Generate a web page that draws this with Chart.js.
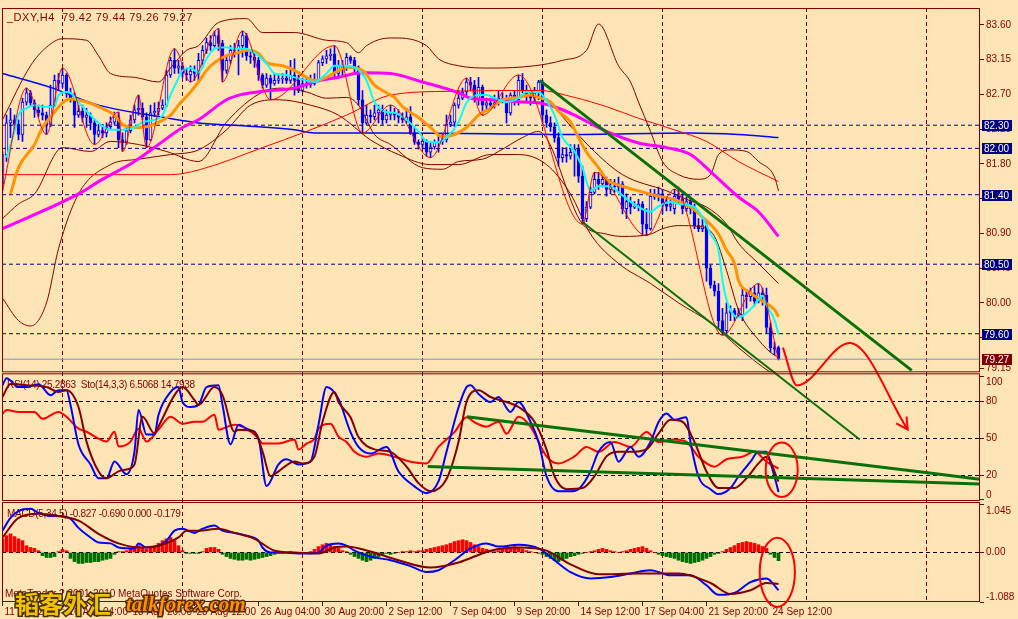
<!DOCTYPE html>
<html><head><meta charset="utf-8">
<script src="https://cdn.jsdelivr.net/npm/chart.js@4.4.1/dist/chart.umd.min.js"></script>
<style>html,body{margin:0;padding:0;background:#FDE4B4;}canvas{display:block;}</style>
</head><body>
<canvas id="c" width="1018" height="619"></canvas>
<script>
// ---------- axis / labels ----------
const dateLabels = ['11 Aug 2010','16 Aug 04:00','18 Aug 20:00','23 Aug 12:00','26 Aug 04:00','30 Aug 20:00','2 Sep 12:00','7 Sep 04:00','9 Sep 20:00','14 Sep 12:00','17 Sep 04:00','21 Sep 20:00','24 Sep 12:00'];
const dateTickBars = [0,16,32,48,64,80,96,112,128,144,160,176,192];
const weekGridBars = [15,45,75,105,135,165,201,231];
const priceTicks = [83.60,83.15,82.70,82.25,81.80,81.35,80.90,80.45,80.00,79.55,79.15];
const stochTicks = [100,80,50,20,0];
const stochGrid = [80,50,20];
const macdTicks = [1.045,0,-1.088];
const priceLevels = [82.30,82.00,81.40,80.50,79.60];
const lastPrice = 79.27;

// ---------- OHLC (H4 bars, index 0 = 11 Aug 12:00) ----------
const open = [81.54,81.92,82.33,82.37,82.31,82.18,82.60,82.72,82.59,82.50,82.46,82.43,82.31,82.56,82.88,82.84,82.95,82.72,82.65,82.43,
82.48,82.40,82.43,82.33,82.18,82.23,82.20,82.28,82.34,82.41,82.11,82.08,82.23,82.37,82.50,82.52,82.41,82.11,82.46,82.48,
82.52,82.56,82.95,83.14,83.04,83.07,82.97,82.95,83.00,82.97,83.14,83.27,83.37,83.33,83.46,83.36,83.01,83.14,83.27,83.29,
83.33,83.46,83.20,83.18,83.14,82.95,82.82,82.91,82.84,82.88,82.90,82.91,82.88,82.95,82.88,82.75,82.84,82.82,82.84,82.88,
83.11,83.16,83.20,83.22,82.97,83.07,83.05,83.18,83.14,83.05,82.63,82.33,82.43,82.41,82.46,82.50,82.37,82.43,82.46,82.43,
82.40,82.37,82.41,82.20,82.08,82.05,82.09,81.95,82.02,82.08,82.09,82.11,82.31,82.34,82.56,82.65,82.73,82.86,82.82,82.63,
82.79,82.56,82.59,82.56,82.59,82.65,82.63,82.46,82.69,82.63,82.88,82.75,82.69,82.65,82.72,82.86,82.43,82.33,82.28,82.14,
81.88,81.92,81.90,81.95,81.99,81.64,81.09,81.24,81.43,81.60,81.54,81.60,81.47,81.51,81.50,81.54,81.22,81.31,81.24,81.25,
81.28,81.02,80.96,81.38,81.37,81.41,81.28,81.25,81.22,81.38,81.34,81.22,81.31,81.22,81.00,80.96,81.00,80.45,80.23,80.15,
79.77,79.64,79.87,79.90,79.84,79.84,80.10,80.08,80.13,80.02,80.13,80.10,79.68,79.42,79.42];
const high = [81.96,82.43,82.52,82.43,82.37,82.65,82.78,82.75,82.63,82.56,82.56,82.47,82.82,82.95,82.97,83.04,82.97,82.78,82.72,82.56,
82.56,82.52,82.46,82.37,82.31,82.31,82.33,82.41,82.47,82.47,82.20,82.28,82.43,82.56,82.69,82.59,82.46,82.56,82.59,82.60,
82.63,83.01,83.18,83.29,83.14,83.11,83.04,83.07,83.07,83.23,83.33,83.43,83.46,83.52,83.55,83.40,83.20,83.33,83.36,83.40,
83.52,83.49,83.27,83.23,83.18,82.97,82.97,82.95,82.97,82.95,82.97,83.01,83.14,83.16,82.95,82.91,82.91,82.95,82.97,83.14,
83.20,83.27,83.29,83.33,83.14,83.14,83.23,83.20,83.18,83.07,82.75,82.56,82.50,82.56,82.56,82.56,82.50,82.56,82.52,82.50,
82.46,82.52,82.54,82.28,82.11,82.14,82.11,82.08,82.11,82.18,82.18,82.43,82.43,82.59,82.75,82.78,82.91,82.92,82.88,82.92,
82.82,82.65,82.65,82.69,82.75,82.72,82.69,82.72,82.75,82.95,82.97,82.82,82.75,82.79,82.88,82.88,82.50,82.41,82.33,82.20,
82.01,82.01,82.05,82.05,82.05,81.77,81.31,81.50,81.69,81.69,81.66,81.63,81.60,81.60,81.63,81.57,81.41,81.37,81.31,81.34,
81.31,81.22,81.47,81.47,81.50,81.47,81.34,81.34,81.47,81.50,81.41,81.37,81.34,81.28,81.09,81.09,81.05,80.49,80.28,80.25,
79.93,80.00,79.96,79.93,79.93,80.19,80.15,80.19,80.22,80.25,80.19,80.19,79.74,79.49,79.44];
const low = [81.45,81.83,82.14,82.24,82.11,82.09,82.56,82.54,82.40,82.41,82.37,82.18,82.28,82.54,82.75,82.79,82.66,82.60,82.27,82.40,
82.34,82.27,82.24,82.05,82.15,82.14,82.15,82.25,82.31,82.01,81.96,82.05,82.20,82.33,82.43,82.37,82.01,82.10,82.41,82.43,
82.50,82.54,82.92,82.97,82.97,82.92,82.88,82.86,82.88,82.88,83.05,83.23,83.27,83.31,83.27,82.86,82.97,83.10,83.18,82.95,
83.18,83.14,83.10,83.05,82.88,82.78,82.79,82.63,82.82,82.84,82.84,82.84,82.84,82.69,82.72,82.73,82.78,82.79,82.82,82.86,
83.07,83.10,83.14,82.92,82.91,82.95,83.01,83.10,82.97,82.56,82.20,82.31,82.33,82.37,82.33,82.31,82.33,82.37,82.37,82.33,
82.33,82.33,82.18,82.05,81.99,81.99,81.90,81.88,81.99,81.95,82.05,82.08,82.28,82.28,82.52,82.63,82.69,82.75,82.60,82.56,
82.43,82.50,82.52,82.52,82.56,82.59,82.33,82.43,82.56,82.56,82.72,82.59,82.56,82.59,82.63,82.33,82.27,82.22,82.08,81.77,
81.82,81.82,81.86,81.64,81.56,81.02,81.05,81.22,81.41,81.47,81.50,81.38,81.41,81.43,81.43,81.15,81.09,81.15,81.22,81.19,
80.87,80.87,80.94,81.34,81.32,81.15,81.19,81.19,81.15,81.28,81.15,81.18,81.15,80.96,80.92,80.92,80.28,80.19,80.09,79.68,
79.58,79.59,79.77,79.77,79.81,79.77,79.93,80.02,79.96,80.00,79.97,79.61,79.36,79.33,79.26];
const close = [81.92,82.33,82.37,82.31,82.18,82.60,82.72,82.59,82.50,82.46,82.43,82.31,82.56,82.88,82.84,82.95,82.72,82.65,82.43,82.48,
82.40,82.43,82.33,82.18,82.23,82.20,82.28,82.34,82.41,82.11,82.08,82.23,82.37,82.50,82.52,82.41,82.11,82.46,82.48,82.52,
82.56,82.95,83.14,83.04,83.07,82.97,82.95,83.00,82.97,83.14,83.27,83.37,83.33,83.46,83.36,83.01,83.14,83.27,83.29,83.33,
83.46,83.20,83.18,83.14,82.95,82.82,82.91,82.84,82.88,82.90,82.91,82.88,82.95,82.88,82.75,82.84,82.82,82.84,82.88,83.11,
83.16,83.20,83.22,82.97,83.07,83.05,83.18,83.14,83.05,82.63,82.33,82.43,82.41,82.46,82.50,82.37,82.43,82.46,82.43,82.40,
82.37,82.41,82.20,82.08,82.05,82.09,81.95,82.02,82.08,82.09,82.11,82.31,82.34,82.56,82.65,82.73,82.86,82.82,82.63,82.79,
82.56,82.59,82.56,82.59,82.65,82.63,82.46,82.69,82.63,82.88,82.75,82.69,82.65,82.72,82.86,82.43,82.33,82.28,82.14,81.88,
81.92,81.90,81.95,81.99,81.64,81.09,81.24,81.43,81.60,81.54,81.60,81.47,81.51,81.50,81.54,81.22,81.31,81.24,81.25,81.28,
81.02,80.96,81.38,81.37,81.41,81.28,81.25,81.28,81.38,81.34,81.22,81.31,81.22,81.00,80.96,81.00,80.45,80.23,80.15,79.77,
79.61,79.87,79.90,79.84,79.86,80.10,80.08,80.13,80.02,80.13,80.10,79.68,79.42,79.40,79.27];

// ---------- price-panel indicators, [bar index, value] ----------
const maCyan = [[1,81.88],[3,82.22],[4,82.43],[6,82.52],[8,82.56],[10,82.54],[13,82.54],[14,82.69],[16,82.73],[17,82.72],[19,82.60],[22,82.43],[24,82.33],[27,82.24],[30,82.24],[33,82.27],[35,82.34],[38,82.37],[40,82.43],[42,82.69],[44,82.91],[45,83.01],[47,83.04],[49,82.98],[51,83.16],[53,83.29],[56,83.31],[58,83.29],[61,83.29],[63,83.24],[66,83.10],[68,82.97],[71,82.95],[73,82.92],[76,82.88],[78,82.86],[81,82.97],[83,83.07],[86,83.07],[88,83.05],[91,82.88],[93,82.60],[96,82.47],[98,82.46],[100,82.41],[104,82.22],[106,82.09],[109,82.08],[111,82.14],[114,82.34],[116,82.59],[119,82.69],[121,82.69],[124,82.63],[126,82.60],[129,82.65],[131,82.73],[134,82.73],[135,82.69],[138,82.43],[140,82.14],[143,81.96],[145,81.75],[147,81.45],[149,81.51],[152,81.51],[154,81.43],[157,81.31],[159,81.24],[162,81.18],[164,81.25],[167,81.31],[169,81.28],[173,81.24],[175,81.11],[177,80.89],[179,80.68],[180,80.29],[181,80.04],[183,79.83],[184,79.81],[186,79.87],[188,79.97],[190,80.09],[191,79.97],[193,79.78],[194,79.59]];
const maOrange = [[2,81.41],[4,81.75],[8,82.05],[10,82.27],[13,82.47],[15,82.59],[17,82.64],[21,82.60],[24,82.54],[28,82.43],[30,82.31],[33,82.27],[36,82.28],[39,82.34],[42,82.43],[44,82.56],[47,82.73],[49,82.86],[51,83.01],[53,83.11],[56,83.20],[59,83.24],[61,83.27],[64,83.23],[66,83.11],[70,83.07],[73,83.01],[76,82.92],[78,82.88],[81,82.92],[83,82.98],[86,83.05],[90,83.01],[93,82.82],[96,82.72],[98,82.66],[100,82.54],[104,82.40],[107,82.27],[110,82.15],[113,82.18],[116,82.27],[119,82.43],[122,82.52],[125,82.63],[129,82.66],[132,82.69],[134,82.66],[137,82.60],[139,82.48],[142,82.34],[144,82.14],[146,81.95],[149,81.75],[151,81.60],[155,81.51],[159,81.45],[164,81.38],[168,81.34],[172,81.24],[175,81.11],[179,80.89],[181,80.68],[183,80.51],[184,80.29],[187,80.13],[190,80.02],[193,79.91],[194,79.82]];
const maMagenta = [[0,80.96],[19,81.41],[24,81.57],[33,81.83],[39,82.05],[45,82.27],[49,82.37],[56,82.63],[60,82.70],[65,82.74],[73,82.78],[79,82.88],[84,82.92],[88,82.97],[91,82.98],[97,82.97],[105,82.86],[114,82.72],[117,82.65],[122,82.63],[130,82.60],[134,82.59],[139,82.52],[143,82.43],[151,82.22],[159,82.07],[166,82.01],[172,81.92],[177,81.70],[184,81.37],[189,81.18],[194,80.86]];
const maBlue = [[0,82.97],[12,82.79],[24,82.56],[37,82.43],[49,82.33],[61,82.29],[73,82.24],[78,82.20],[98,82.20],[122,82.19],[141,82.18],[172,82.20],[184,82.18],[194,82.14]];
const maRed = [[0,81.66],[24,81.66],[42,81.66],[49,81.72],[65,82.01],[76,82.22],[86,82.43],[97,82.69],[112,82.74],[134,82.75],[143,82.66],[151,82.54],[159,82.39],[168,82.24],[176,82.09],[184,81.83],[194,81.57]];
const zigzag = [[0,81.45],[6,82.78],[11,82.18],[15,83.04],[23,82.05],[29,82.47],[30,81.96],[34,82.69],[36,82.01],[43,83.29],[47,82.86],[54,83.55],[55,82.86],[60,83.52],[67,82.63],[83,83.33],[90,82.20],[97,82.56],[107,81.88],[116,82.91],[120,82.43],[129,82.95],[145,81.02],[148,81.69],[161,80.87],[168,81.47],[180,79.58],[189,80.25],[194,79.26]];
const bbOuterUp = [[0,82.37],[7,83.07],[11,83.31],[15,83.42],[21,83.40],[24,83.20],[27,82.97],[33,82.92],[39,82.86],[42,83.04],[46,83.27],[49,83.33],[54,83.63],[61,83.68],[65,83.50],[73,83.50],[81,83.40],[86,83.37],[89,83.24],[91,83.33],[95,83.42],[98,83.43],[106,83.33],[109,83.16],[114,83.07],[122,83.04],[133,83.07],[140,83.14],[146,83.27],[149,83.61],[154,83.07],[157,82.86],[159,82.60],[162,82.22],[165,81.83],[169,81.66],[174,81.60],[177,81.66],[179,81.92],[182,81.98],[186,81.96],[189,81.83],[193,81.63],[194,81.45]];
const bbOuterLow = [[0,80.06],[4,79.77],[7,79.70],[11,80.00],[14,80.70],[19,81.41],[27,81.79],[34,81.86],[42,81.92],[49,81.98],[56,82.24],[62,82.56],[69,82.63],[77,82.56],[84,82.43],[92,82.11],[99,81.92],[107,81.79],[114,81.79],[122,81.92],[129,81.92],[136,81.79],[142,81.41],[147,80.89],[154,80.51],[162,80.25],[169,80.00],[177,79.74],[184,79.42],[192,79.10],[194,79.05]];
const bbInnerUp = [[136,82.65],[147,82.01],[155,81.66],[166,81.45],[172,81.32],[176,81.24],[181,81.02],[184,80.77],[189,80.51],[194,80.25]];
const bbInnerLow = [[0,81.09],[4,81.28],[8,81.41],[15,82.01],[22,81.96],[27,82.09],[34,82.05],[41,81.96],[49,81.83],[56,82.34],[65,82.73],[70,82.78],[76,82.73],[81,82.65],[86,82.66],[89,82.56],[93,82.18],[97,82.05],[105,81.75],[110,81.73],[114,81.83],[120,81.86],[124,81.96],[130,82.14],[134,82.22],[145,81.02],[151,80.89],[155,80.86],[162,80.89],[165,80.96],[169,81.00],[174,80.99],[178,80.86],[181,80.42],[184,79.91],[189,79.52],[193,79.32],[194,79.30]];
const channelUpper = [[134.3,82.88],[227.3,79.126]];
const channelLower = [[144.9,81.05],[214.3,78.23]];
const arrowPath = [[195.1,79.42],[198.6,78.93],[211.8,79.48],[226.3,78.36]];

// ---------- RSI / Stochastic ----------
const rsi14 = [[0,69.8],[1,73],[4,71.4],[8,71.4],[10,65.8],[14,71.4],[16,67.4],[19,57.8],[21,55.3],[24,49.7],[26,47.3],[28,55.3],[29,43.3],[32,47.3],[34,57.8],[36,47.3],[39,57],[42,67.4],[45,61.8],[48,63.4],[50,63.4],[53,69],[54,57],[58,61],[61,57.8],[64,49.7],[65,45.7],[69,45.7],[73,49],[74,40.9],[76,45.7],[78,49.7],[79,57.8],[82,61.8],[84,51.3],[86,47],[88,39],[91,35],[94,37.6],[98,35],[102,31],[106,29.6],[109,43],[113,55],[116,67],[118,63],[121,59.4],[124,63.4],[126,53.7],[129,67.4],[132,59.4],[136,35.3],[139,29.6],[143,35.3],[146,43],[149,39],[153,47],[157,43],[161,55],[164,47],[168,49],[171,47],[174,35],[178,27],[181,33],[185,35],[188,39],[191,31],[194,25.3]];
const stochK = [[0,93],[1,98.7],[4,91.5],[6,91.5],[9,93.9],[12,85],[14,89],[16,89],[17,77],[19,45],[22,28.8],[24,17.6],[26,17.6],[28,31.2],[31,20.8],[33,39.3],[34,73],[36,53],[38,53],[39,69],[42,87.5],[44,91.5],[45,79.4],[47,75.4],[49,77],[51,91.5],[54,93],[55,77],[57,45],[59,61],[61,57.8],[64,49.7],[66,11.2],[69,28.8],[71,32.9],[74,28.8],[77,31.2],[79,61],[81,91.5],[84,81.8],[87,55],[89,43],[92,37.6],[96,43],[99,23],[103,11],[106,5.5],[109,15],[111,39],[114,75],[116,91.5],[117,93],[119,86],[122,79.4],[124,83.5],[127,71.4],[129,79.4],[132,63.4],[134,47.3],[136,19.2],[139,7],[142,7],[144,8.7],[147,23],[149,39],[152,47],[154,31],[157,43],[159,35],[162,47],[164,63],[166,70],[168,65],[171,67],[172,47],[174,19],[177,8.7],[179,4.7],[182,9.6],[184,19],[187,31],[189,39],[191,39],[192,30],[193,19],[194,6.5]];
const stochD = [[0,83.5],[2,94],[6,93],[11,91.5],[14,87.5],[16,89],[19,75.4],[21,47.3],[24,23.2],[26,17.6],[29,23.2],[31,24.7],[33,28.8],[35,67.4],[38,53.9],[39,59.5],[43,85],[45,91.5],[48,81],[49,77],[53,91.5],[55,85],[58,55.3],[59,57],[63,55.3],[65,39.3],[67,19.2],[69,23.2],[73,31.2],[75,29.6],[78,35.3],[80,63.4],[83,87.5],[84,79.4],[87,67],[89,51],[93,41],[97,39],[101,27],[104,13.6],[107,7],[111,17],[114,47],[116,79.4],[119,89],[122,83.5],[126,79.4],[129,75.4],[133,63.4],[136,41],[138,19.2],[141,8.7],[145,9.6],[148,19.2],[151,35.3],[154,39],[157,39],[161,41],[164,53.7],[167,65],[170,63.4],[173,47],[176,23],[179,9.6],[183,9.6],[186,17.6],[189,29.6],[191,35],[194,14.8]];
const stochTrendUpper = [[116.1,67.4],[244.3,16.8]];
const stochTrendLower = [[106.3,27.2],[244.3,13.0]];

// ---------- MACD(5,34,5) ----------
const macdMain = [[0,0.48],[2,0.76],[4,0.91],[7,0.96],[9,0.87],[12,0.80],[14,0.80],[17,0.74],[19,0.54],[22,0.33],[24,0.22],[27,0.20],[29,0.11],[33,0.09],[34,0.20],[36,0.11],[39,0.15],[41,0.26],[43,0.48],[45,0.52],[48,0.43],[50,0.52],[53,0.59],[55,0.48],[58,0.43],[61,0.37],[64,0.26],[65,0.11],[67,0],[70,0],[74,-0.02],[76,-0.02],[79,0],[81,0.15],[84,0.20],[86,0.15],[88,0.04],[92,-0.09],[97,-0.17],[102,-0.30],[106,-0.43],[109,-0.39],[113,-0.17],[117,0.09],[121,0.20],[124,0.13],[129,0.17],[134,0.09],[138,-0.17],[142,-0.43],[147,-0.57],[152,-0.54],[157,-0.46],[162,-0.39],[167,-0.5],[172,-0.5],[176,-0.72],[179,-0.93],[183,-0.89],[187,-0.65],[191,-0.57],[194,-0.83]];
const macdSignal = [[0,0.33],[4,0.76],[9,0.85],[14,0.80],[19,0.70],[24,0.41],[29,0.20],[34,0.11],[39,0.15],[44,0.33],[46,0.48],[49,0.48],[54,0.52],[58,0.43],[63,0.30],[68,0.04],[73,0],[79,-0.02],[83,0.11],[86,0.13],[92,0.02],[99,-0.17],[107,-0.33],[114,-0.22],[122,0.04],[129,0.11],[136,0.04],[142,-0.26],[149,-0.48],[159,-0.46],[169,-0.46],[177,-0.67],[182,-0.91],[187,-0.83],[191,-0.67],[194,-0.69]];
const macdHist = [0.30,0.37,0.41,0.35,0.30,0.26,0.15,0.11,0.09,0.04,-0.07,-0.11,-0.11,-0.09,0.02,0.07,0.04,-0.13,-0.20,-0.24,
-0.24,-0.22,-0.22,-0.20,-0.20,-0.17,-0.15,-0.13,-0.04,0.02,0.02,0.04,0.09,0.13,0.15,0.11,0.07,0.09,0.13,0.20,
0.26,0.30,0.33,0.26,0.15,0.04,-0.02,-0.02,-0.02,-0.02,0.02,0.09,0.11,0.11,0.07,-0.04,-0.09,-0.13,-0.15,-0.17,
-0.17,-0.15,-0.17,-0.15,-0.13,-0.11,-0.09,-0.07,-0.04,-0.02,-0.02,0,0.02,-0.02,-0.02,0,0,0.02,0.07,0.13,
0.17,0.20,0.17,0.13,0.09,0.04,0.02,-0.04,-0.09,-0.13,-0.17,-0.20,-0.17,-0.13,-0.09,-0.04,-0.02,-0.04,-0.02,0,
0.02,0.02,0.04,0.02,0.04,0.04,0.07,0.09,0.11,0.13,0.15,0.17,0.20,0.24,0.26,0.28,0.26,0.22,0.17,0.13,
0.09,0.07,0.04,0.02,0.04,0.07,0.09,0.11,0.13,0.11,0.07,0.04,0.02,0,-0.02,-0.04,-0.09,-0.13,-0.17,-0.20,
-0.17,-0.13,-0.09,-0.07,-0.04,-0.02,0,0.02,0.04,0.07,0.09,0.07,0.04,0.02,0,0.02,0.04,0.07,0.09,0.11,
0.13,0.09,0.04,0,-0.04,-0.07,-0.09,-0.11,-0.13,-0.17,-0.20,-0.22,-0.24,-0.22,-0.20,-0.17,-0.13,-0.09,-0.04,-0.02,
0.02,0.07,0.11,0.15,0.20,0.22,0.24,0.22,0.20,0.17,0.13,0.09,-0.04,-0.11,-0.18];

// ---------- texts ----------
const titleText = '_DXY,H4  79.42 79.44 79.26 79.27';
const stochText = 'RSI(14) 25.2863  Sto(14,3,3) 6.5068 14.7938';
const macdText = 'MACD(5,34,5) -0.827 -0.690 0.000 -0.179';
const copyText = 'MetaTrader ? 2001-2010 MetaQuotes Software Corp.';
const wmCn = '韬客外汇';
const wmEn = 'talkforex.com';

// ---------- style ----------
const BG = '#FDE4B4', MAROON = '#800000', BLUE = '#0000FF', NAVY = '#000080';
const GREEN = '#0A700A', FONT = '"Liberation Sans", Arial, sans-serif';
const X_MIN = -0.125, X_MAX = 244.375;
const P_MIN = 79.100, P_MAX = 83.818;
const S_MIN = -0.9, S_MAX = 103.5;
const M_MIN = -1.087, M_MAX = 1.130;

const pts = a => a.map(([x, y]) => ({x, y}));
const lineDs = (data, color, width, yAxisID, order, extra) => Object.assign({
  type: 'line', data: pts(data), borderColor: color, borderWidth: width, pointRadius: 0,
  fill: false, yAxisID, xAxisID: 'x', order, cubicInterpolationMode: 'monotone', tension: 0.3
}, extra || {});

const wickData = close.map((c, i) => ({x: i, y: [low[i], high[i]]}));
const bodyData = close.map((c, i) => ({x: i, y: [open[i], c]}));
const bodyFill = close.map((c, i) => c < open[i] ? BLUE : BG);
const levelDs = priceLevels.map(v => lineDs([[X_MIN, v], [X_MAX, v]], NAVY, 1, 'y', 16, {borderDash: [4, 3], tension: 0}));

const datasets = [
  {type: 'bar', data: wickData, backgroundColor: BLUE, barThickness: 1, grouped: false, yAxisID: 'y', xAxisID: 'x', order: 20},
  {type: 'bar', data: bodyData, backgroundColor: bodyFill, borderColor: BLUE, borderWidth: 1, borderSkipped: false, barThickness: 3, grouped: false, yAxisID: 'y', xAxisID: 'x', order: 19},
  lineDs(bbOuterUp, MAROON, 1, 'y', 18),
  lineDs(bbOuterLow, MAROON, 1, 'y', 18),
  lineDs(bbInnerUp, MAROON, 1, 'y', 18),
  lineDs(bbInnerLow, MAROON, 1, 'y', 18),
  ...levelDs,
  lineDs([[X_MIN, lastPrice], [X_MAX, lastPrice]], '#7C98B8', 1, 'y', 16, {tension: 0}),
  lineDs(maBlue, BLUE, 1.5, 'y', 14),
  lineDs(maRed, '#FF0000', 1, 'y', 13),
  lineDs(maMagenta, '#FF00FF', 3, 'y', 12),
  lineDs(maOrange, '#FF9400', 3, 'y', 11),
  lineDs(maCyan, '#00FFFF', 2, 'y', 10),
  lineDs(zigzag, '#FF0000', 1, 'y', 9, {tension: 0}),
  lineDs(channelUpper, GREEN, 3, 'y', 3, {tension: 0, clip: false}),
  lineDs(channelLower, GREEN, 2, 'y', 3, {tension: 0, clip: false}),
  lineDs(arrowPath, '#FF0000', 2, 'y', 2, {tension: 0, clip: false}),
  lineDs(rsi14, '#FF0000', 2, 'y2', 8, {tension: 0.2}),
  lineDs(stochK, BLUE, 2, 'y2', 7, {tension: 0.2}),
  lineDs(stochD, MAROON, 2, 'y2', 6, {tension: 0.2}),
  lineDs(stochTrendUpper, GREEN, 3, 'y2', 4, {tension: 0}),
  lineDs(stochTrendLower, GREEN, 3, 'y2', 4, {tension: 0}),
  {type: 'bar', data: macdHist.map((v, i) => ({x: i, y: v})), backgroundColor: macdHist.map(v => v >= 0 ? '#FF0000' : '#006E00'), barThickness: 3, grouped: false, yAxisID: 'y3', xAxisID: 'x', order: 8},
  lineDs(macdMain, BLUE, 2, 'y3', 7, {tension: 0.3}),
  lineDs(macdSignal, MAROON, 2, 'y3', 6, {tension: 0.3})
];

function boxLabel(c, y, text, bg) {
  const yy = Math.round(y);
  c.fillStyle = bg; c.fillRect(982, yy - 5, 30, 11);
  c.fillStyle = '#FFFFFF'; c.textAlign = 'left'; c.textBaseline = 'middle';
  c.fillText(text, 984, yy + 1);
}

const overlay = {
  id: 'overlay',
  beforeDraw(chart) {
    const c = chart.ctx; c.save(); c.fillStyle = BG; c.fillRect(0, 0, chart.width, chart.height); c.restore();
  },
  beforeDatasetsDraw(chart) {
    const c = chart.ctx, s = chart.scales;
    c.save(); c.fillStyle = MAROON; c.textBaseline = 'middle'; c.textAlign = 'left';
    c.font = '11px ' + FONT;
    c.letterSpacing = '0.5px';
    c.fillText(titleText, 7, s.y.top + 10);
    c.font = '10px ' + FONT;
    c.letterSpacing = '-0.3px';
    c.fillText(stochText, 7, s.y2.top + 13);
    c.fillText(macdText, 7, s.y3.top + 13);
    c.letterSpacing = '0px';
    c.fillText(copyText, 5, s.y3.bottom - 8);
    c.restore();
  },
  afterDatasetsDraw(chart) {
    const c = chart.ctx, s = chart.scales, xs = s.x;
    c.save();
    c.strokeStyle = MAROON; c.lineWidth = 1;
    const L = xs.left + 0.5, W = xs.right - xs.left - 1;
    c.strokeRect(L, s.y.top + 0.5, W, s.y.bottom - s.y.top - 1);
    c.strokeRect(L, s.y2.top + 1.5, W, s.y2.bottom - s.y2.top - 2);
    c.strokeRect(L, s.y3.top + 1.5, W, s.y3.bottom - s.y3.top - 2);
    c.font = '10px ' + FONT;
    priceLevels.forEach(v => boxLabel(c, s.y.getPixelForValue(v), v.toFixed(2), NAVY));
    boxLabel(c, s.y.getPixelForValue(lastPrice), lastPrice.toFixed(2), MAROON);
    c.fillStyle = MAROON; c.textAlign = 'left';
    const axisLabels = (sc, vals, fmt) => vals.forEach((v, k) => {
      c.textBaseline = k === 0 ? 'top' : (k === vals.length - 1 ? 'bottom' : 'middle');
      c.fillText(fmt(v), sc.left + 6, sc.getPixelForValue(v) + (k === 0 ? 1 : 0));
    });
    axisLabels(s.y2, stochTicks, v => String(v));
    axisLabels(s.y3, macdTicks, v => v === 0 ? '0.00' : v.toFixed(3));
    c.strokeStyle = '#FF0000'; c.lineWidth = 2;
    const ell = (sc, cxv, cyv, rxv, ryv) => {
      const cx = xs.getPixelForValue(cxv), cy = sc.getPixelForValue(cyv);
      const rx = Math.abs(xs.getPixelForValue(cxv + rxv) - cx), ry = Math.abs(sc.getPixelForValue(cyv + ryv) - cy);
      c.beginPath(); c.ellipse(cx, cy, rx, ry, 0, 0, Math.PI * 2); c.stroke();
    };
    ell(s.y2, 194.8, 24.4, 4, 22.1);
    ell(s.y3, 193.7, -0.435, 4.4, 0.76);
    const n = arrowPath.length;
    const ax = xs.getPixelForValue(arrowPath[n - 1][0]), ay = s.y.getPixelForValue(arrowPath[n - 1][1]);
    const bx = xs.getPixelForValue(arrowPath[n - 2][0]), by = s.y.getPixelForValue(arrowPath[n - 2][1]);
    const ang = Math.atan2(ay - by, ax - bx);
    c.beginPath();
    c.moveTo(ax - 13 * Math.cos(ang - 0.5), ay - 13 * Math.sin(ang - 0.5));
    c.lineTo(ax, ay);
    c.lineTo(ax - 13 * Math.cos(ang + 0.5), ay - 13 * Math.sin(ang + 0.5));
    c.stroke();
    const by0 = chart.height - 6;
    c.textBaseline = 'alphabetic'; c.textAlign = 'left';
    c.font = 'bold 24px "Noto Sans CJK SC"';
    c.lineWidth = 3; c.strokeStyle = '#4A3000'; c.strokeText(wmCn, 15, by0);
    c.fillStyle = '#F2C200'; c.fillText(wmCn, 15, by0);
    c.font = 'bold italic 21px "Liberation Serif"';
    c.strokeStyle = '#5A2800'; c.strokeText(wmEn, 126, by0 - 2);
    c.fillStyle = '#FF9000'; c.fillText(wmEn, 126, by0 - 2);
    c.restore();
  }
};

const tickFont = {family: FONT, size: 10};
new Chart(document.getElementById('c'), {
  data: {datasets},
  options: {
    responsive: false, animation: false, devicePixelRatio: 1,
    layout: {padding: {left: 2, top: 2, right: 0, bottom: 0}, autoPadding: false},
    plugins: {legend: {display: false}, tooltip: {enabled: false}},
    scales: {
      x: {type: 'linear', position: 'bottom', min: X_MIN, max: X_MAX, offset: false,
        afterBuildTicks: sc => { sc.ticks = dateTickBars.map(v => ({value: v})); },
        afterFit: sc => { sc.height = 17; },
        grid: {offset: false, drawOnChartArea: false, drawTicks: true, tickLength: 4, tickColor: MAROON, color: MAROON},
        border: {display: false},
        ticks: {autoSkip: false, maxRotation: 0, minRotation: 0, align: 'start', labelOffset: 2, padding: 0, color: MAROON, font: tickFont, callback: (v, i) => dateLabels[i]}},
      x2: {type: 'linear', position: 'top', min: X_MIN, max: X_MAX, offset: false,
        afterBuildTicks: sc => { sc.ticks = weekGridBars.map(v => ({value: v})); },
        afterFit: sc => { sc.height = 0; },
        grid: {offset: false, drawOnChartArea: true, drawTicks: false, color: MAROON, lineWidth: 1},
        border: {display: false, dash: [4, 3]},
        ticks: {display: false, autoSkip: false}},
      y: {type: 'linear', position: 'right', stack: 'panes', stackWeight: 368, min: P_MIN, max: P_MAX,
        afterBuildTicks: sc => { sc.ticks = priceTicks.map(v => ({value: v})); },
        afterFit: sc => { sc.width = 38; },
        grid: {drawOnChartArea: false, drawTicks: true, tickLength: 4, tickColor: MAROON},
        border: {display: false},
        ticks: {color: MAROON, font: tickFont, padding: 2, autoSkip: false, callback: v => Number(v).toFixed(2)}},
      y2: {type: 'linear', position: 'right', stack: 'panes', stackWeight: 130, min: S_MIN, max: S_MAX,
        afterBuildTicks: sc => { sc.ticks = stochTicks.map(v => ({value: v})); },
        afterFit: sc => { sc.width = 38; },
        grid: {drawOnChartArea: true, drawTicks: true, tickLength: 4, tickColor: MAROON, tickBorderDash: [],
          color: ctx => stochGrid.includes(ctx.tick && ctx.tick.value) ? '#000000' : 'rgba(0,0,0,0)'},
        border: {display: false, dash: [4, 3]},
        ticks: {display: false, autoSkip: false}},
      y3: {type: 'linear', position: 'right', stack: 'panes', stackWeight: 102, min: M_MIN, max: M_MAX,
        afterBuildTicks: sc => { sc.ticks = macdTicks.map(v => ({value: v})); },
        afterFit: sc => { sc.width = 38; },
        grid: {drawOnChartArea: true, drawTicks: true, tickLength: 4, tickColor: MAROON, tickBorderDash: [],
          color: ctx => (ctx.tick && ctx.tick.value === 0) ? '#000000' : 'rgba(0,0,0,0)'},
        border: {display: false, dash: [4, 3]},
        ticks: {display: false, autoSkip: false}}
    }
  },
  plugins: [overlay]
});
</script>
</body></html>
